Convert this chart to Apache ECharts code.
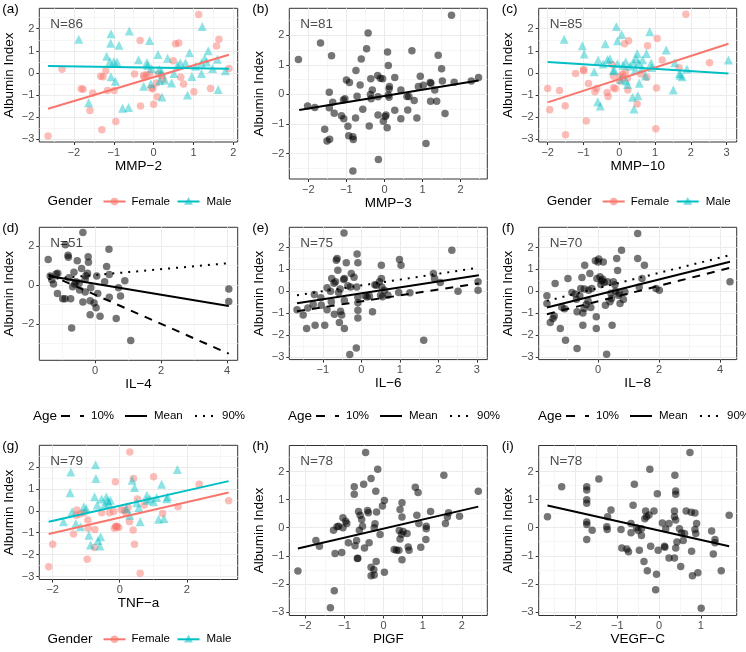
<!DOCTYPE html>
<html>
<head>
<meta charset="utf-8">
<script src="https://cdn.jsdelivr.net/npm/echarts@6.0.0/dist/echarts.min.js"></script>
<style>
html, body { margin: 0; padding: 0; background: #fff; }
#chart { width: 746px; height: 652px; }
</style>
</head>
<body>
<div id="chart"></div>
<script>
// ---- data ----
const panelTags = ['(a)', '(b)', '(c)', '(d)', '(e)', '(f)', '(g)', '(h)', '(i)'];
const xNames = ['MMP-2', 'MMP-3', 'MMP-10', 'IL-4', 'IL-6', 'IL-8', 'TNF-a', 'PlGF', 'VEGF-C'];
const sampleN = [86, 81, 85, 51, 75, 70, 79, 78, 78];
const ageLevels = ['10%', 'Mean', '90%'];
const genders = ['Female', 'Male'];

const xTicks = [
  [-2, -1, 0, 1, 2], [-2, -1, 0, 1, 2], [-2, -1, 0, 1, 2, 3],
  [0, 2, 4], [-1, 0, 1, 2, 3], [0, 2, 4],
  [-2, 0, 2], [-2, -1, 0, 1, 2], [-2, -1, 0, 1]
];
const yTicks = [
  [-3, -2, -1, 0, 1, 2], [-2, -1, 0, 1, 2], [-3, -2, -1, 0, 1, 2],
  [-2, 0, 2], [-3, -2, -1, 0, 1, 2], [-3, -2, -1, 0, 1, 2],
  [-3, -2, -1, 0, 1, 2], [-3, -2, -1, 0, 1, 2], [-3, -2, -1, 0, 1, 2]
];

const mmp2Female = [[-2.65,-2.85],[-2.3,0.17],[-1.82,-0.72],[-1.77,-0.74],[-1.6,-1.7],[-1.53,-0.91],[-1.33,-0.15],[-1.27,-0.17],[-1.3,-2.57],[-1.2,0.1],[-1.16,-0.8],[-0.99,-0.8],[-0.95,-2.2],[-0.48,-0.05],[-0.34,1.47],[-0.33,-1.5],[-0.25,-0.1],[-0.18,-0.08],[-0.24,-0.2],[-0.1,-0.05],[-0.05,-0.68],[-0.02,-0.72],[0.0,-1.42],[0.07,-0.45],[0.09,-1.08],[0.12,-0.05],[0.23,-0.28],[0.2,-0.12],[0.49,0.55],[0.55,1.32],[0.63,1.36],[0.68,-0.2],[0.75,-0.5],[1.01,-0.85],[1.13,2.65],[1.43,-0.7],[1.58,1.22],[1.64,1.53],[1.89,0.2]];
const mmp2Male = [[-1.88,1.52],[-1.63,-1.35],[-1.07,1.77],[-1.08,1.34],[-1.18,0.76],[-1.1,0.52],[-1.0,0.52],[-0.92,0.5],[-1.07,-0.17],[-0.96,-0.38],[-0.87,1.25],[-0.78,-1.6],[-0.63,-1.56],[-0.61,1.9],[-0.38,0.6],[-0.17,0.47],[-0.15,0.34],[-0.1,1.47],[-0.25,-0.6],[-0.07,-0.49],[0.11,0.84],[0.14,0.16],[0.21,-1.09],[0.28,-0.32],[0.35,0.67],[0.45,-0.45],[0.51,-0.02],[0.67,0.46],[0.8,0.46],[0.85,-1.0],[0.9,0.91],[0.96,-0.16],[1.2,0.45],[1.22,2.1],[1.2,-0.03],[1.28,0.66],[1.33,0.5],[1.37,1.0],[1.48,0.2],[1.6,0.62],[1.62,-0.75],[1.8,0.1],[0.2,0.05],[0.6,0.35],[-0.05,0.2],[1.05,0.3],[0.15,-0.35]];
const mmp2FitFemale = [[-2.65,-1.62],[1.89,0.82]];
const mmp2FitMale = [[-2.65,0.31],[1.89,0.19]];

const mmp3Points = [[-2.26,1.18],[-2.02,-0.39],[-1.83,-0.44],[-1.68,1.74],[-1.57,-1.18],[-1.51,-1.58],[-1.44,-1.52],[-1.45,0.07],[-1.45,-0.45],[-1.39,1.31],[-1.36,-0.27],[-1.32,-0.64],[-1.13,-0.72],[-1.08,-0.19],[-1.04,-0.15],[-1.07,-0.82],[-1.0,0.49],[-0.96,-1.08],[-0.94,-1.4],[-0.92,0.4],[-0.83,-1.43],[-0.82,-1.53],[-0.83,-2.59],[-0.75,0.81],[-0.76,-0.8],[-0.72,-0.06],[-0.64,0.32],[-0.61,1.2],[-0.57,-0.5],[-0.47,1.54],[-0.43,2.08],[-0.4,-1.07],[-0.37,0.0],[-0.36,0.53],[-0.32,0.15],[-0.35,-0.15],[-0.18,0.64],[-0.17,-0.7],[-0.17,-0.08],[-0.16,-2.2],[-0.11,0.55],[-0.05,0.53],[-0.03,-0.91],[0.02,-0.75],[0.04,-0.7],[0.07,-1.13],[0.08,1.43],[0.1,0.98],[0.12,0.18],[0.12,-0.1],[0.13,0.27],[0.27,0.57],[0.27,-0.54],[0.43,0.15],[0.43,-0.82],[0.61,-0.53],[0.59,-0.07],[0.64,-0.07],[0.72,1.48],[0.78,-0.21],[0.85,-0.8],[0.89,0.27],[0.94,0.61],[1.02,0.31],[1.09,-1.66],[1.2,0.4],[1.21,-0.23],[1.32,0.15],[1.37,-0.23],[1.41,1.32],[1.5,0.87],[1.52,0.45],[1.59,-0.65],[1.76,2.68],[1.83,0.41],[2.28,0.45],[2.47,0.57],[1.22,0.38],[0.1,-0.02]];
const mmp3Fit = [[-2.24,-0.53],[2.47,0.47]];

const mmp10Female = [[-2.0,-0.7],[-1.94,-1.67],[-1.67,-0.79],[-1.51,-1.49],[-1.5,-2.8],[-1.22,-0.03],[-1.0,0.16],[-0.99,0.1],[-0.86,-0.48],[-0.92,-2.17],[-0.68,-0.85],[-0.63,-0.7],[-0.34,-0.89],[-0.31,-1.07],[-0.2,0.37],[-0.16,-0.15],[-0.16,-0.67],[-0.11,-0.71],[0.01,-0.36],[0.03,-0.15],[0.09,-0.06],[0.1,-0.23],[0.15,1.32],[0.17,0.04],[0.24,-0.77],[0.26,1.46],[0.23,-0.24],[0.5,-1.4],[0.6,-0.05],[0.77,-0.2],[0.79,1.23],[1.04,-0.68],[1.06,1.56],[1.02,-2.52],[1.2,0.58],[1.67,0.24],[1.86,2.66],[2.52,0.46]];
const mmp10Male = [[-1.54,1.52],[-1.03,1.23],[-0.98,0.86],[-0.59,0.58],[-0.6,-1.3],[-0.53,-1.5],[-0.39,1.32],[-0.33,0.61],[-0.26,0.64],[-0.17,0.1],[-0.14,0.13],[-0.08,2.1],[-0.05,1.46],[-0.05,0.43],[0.07,1.74],[0.18,0.51],[0.19,-0.36],[0.23,-0.52],[0.37,-1.1],[0.39,0.5],[0.41,-1.63],[0.47,0.64],[0.5,0.88],[0.54,0.46],[0.52,-1.03],[0.56,-0.47],[0.64,0.22],[0.73,-0.14],[0.76,0.88],[0.85,1.86],[0.89,0.45],[0.91,0.25],[1.31,1.04],[1.51,-0.77],[1.55,0.46],[1.68,-0.02],[1.76,-0.17],[1.89,0.18],[3.05,0.58],[0.3,0.3],[0.45,0.15],[-0.45,0.4],[0.05,-0.3],[0.65,0.6],[0.1,0.35],[1.7,-0.1],[-0.7,0.05]];
const mmp10FitFemale = [[-2.0,-1.33],[3.05,1.32]];
const mmp10FitMale = [[-2.0,0.49],[3.05,-0.02]];

const il4Points = [[-1.42,1.31],[-1.36,0.46],[-1.31,0.27],[-1.26,0.05],[-1.18,0.56],[-1.13,0.61],[-1.14,-0.44],[-0.98,-0.71],[-0.91,-0.71],[-0.9,2.06],[-0.82,1.53],[-0.81,1.43],[-0.79,0.37],[-0.74,-0.7],[-0.71,-2.21],[-0.68,-0.09],[-0.64,0.66],[-0.58,0.17],[-0.54,1.24],[-0.48,0.1],[-0.41,0.85],[-0.37,2.69],[-0.37,-0.87],[-0.28,0.48],[-0.23,0.6],[-0.21,1.45],[-0.2,1.17],[-0.15,-0.8],[-0.13,-0.14],[-0.15,-1.53],[-0.03,-0.92],[0.03,-1.16],[0.05,0.46],[0.08,-0.44],[0.15,-1.6],[0.29,0.17],[0.35,0.95],[0.42,1.84],[0.43,0.54],[0.43,-0.63],[0.64,-1.72],[0.71,-0.14],[0.77,-0.56],[0.9,0.22],[1.08,-2.84],[4.05,-0.2],[4.05,-0.85],[-0.3,-0.36],[-0.47,-0.26],[-0.62,0.05],[-0.3,0.3]];
const il4Fit10 = [[-1.41,0.55],[4.05,-3.52]];
const il4FitMean = [[-1.41,0.46],[4.05,-1.07]];
const il4Fit90 = [[-1.41,0.3],[4.05,1.12]];

const il6Points = [[-1.67,-0.84],[-1.51,-1.09],[-1.42,-1.7],[-1.39,-0.76],[-1.25,-0.61],[-1.22,-0.15],[-1.2,-1.55],[-1.04,-0.64],[-0.95,-1.55],[-0.89,-0.85],[-0.89,0.16],[-0.78,-0.48],[-0.77,0.58],[-0.71,0.37],[-0.7,-1.05],[-0.67,0.43],[-0.65,1.42],[-0.63,1.5],[-0.61,0.96],[-0.59,-0.06],[-0.57,-1.43],[-0.54,-0.91],[-0.51,-1.09],[-0.46,0.54],[-0.44,0.58],[-0.44,-0.42],[-0.44,-1.7],[-0.45,2.67],[-0.39,1.3],[-0.3,-2.89],[-0.26,0.81],[-0.28,0.2],[-0.19,0.64],[-0.13,-2.59],[-0.11,1.7],[-0.09,1.3],[-0.12,0.2],[-0.09,-0.26],[-0.09,-0.53],[-0.09,-0.87],[-0.09,-1.22],[0.29,-0.94],[0.15,-0.26],[0.21,-0.23],[0.39,0.28],[0.47,0.43],[0.5,-0.18],[0.52,1.19],[0.52,0.58],[0.53,0.2],[0.6,0.05],[0.69,-0.18],[0.97,-0.06],[0.99,1.45],[1.03,1.19],[1.26,-0.07],[1.62,-2.24],[1.87,0.81],[1.9,0.58],[2.05,0.4],[2.35,1.88],[2.51,0.0],[3.03,0.43],[3.03,0.05],[-0.35,0.25],[0.1,-0.2],[0.35,0.3],[-0.55,0.1],[-1.05,-0.3],[-0.8,0.0],[0.55,-0.25]];
const il6Fit10 = [[-1.67,-0.91],[3.05,0.36]];
const il6FitMean = [[-1.67,-0.55],[3.05,0.73]];
const il6Fit90 = [[-1.67,-0.18],[3.05,1.08]];

const il8Points = [[-1.68,-0.21],[-1.68,-0.56],[-1.57,-1.43],[-1.48,-1.25],[-1.44,-1.13],[-1.41,0.35],[-1.24,-1.7],[-1.19,-0.73],[-1.07,-2.24],[-0.99,0.58],[-0.86,-0.06],[-0.75,-0.12],[-0.71,-0.36],[-0.69,-0.94],[-0.69,-2.62],[-0.57,0.13],[-0.53,0.63],[-0.5,-0.99],[-0.5,-1.55],[-0.46,-0.79],[-0.44,1.19],[-0.39,-0.61],[-0.33,-0.45],[-0.31,0.05],[-0.27,0.81],[-0.24,-0.74],[-0.09,1.39],[-0.06,-1.17],[-0.06,-1.7],[-0.04,0.58],[0.0,1.34],[0.02,1.48],[0.06,0.66],[0.09,0.31],[0.11,0.48],[0.17,1.34],[0.24,-0.64],[0.28,-2.88],[0.31,0.43],[0.39,-0.48],[0.42,-0.09],[0.44,-0.33],[0.46,-1.55],[0.5,0.43],[0.57,0.0],[0.61,1.5],[0.64,0.95],[0.66,-0.18],[0.72,-0.56],[0.77,1.88],[0.83,-0.38],[0.88,-0.03],[1.3,2.64],[1.3,1.5],[1.35,0.2],[1.44,0.58],[1.52,1.19],[1.9,0.13],[2.01,0.05],[4.33,0.43],[-0.21,0.13],[0.15,0.55],[-0.45,0.1],[0.55,0.3],[-1.1,-0.8],[0.2,0.4],[-0.6,-0.2],[0.7,-0.1]];
const il8Fit10 = [[-1.68,-1.05],[4.33,1.07]];
const il8FitMean = [[-1.68,-0.74],[4.33,1.35]];
const il8Fit90 = [[-1.68,-0.44],[4.33,1.65]];

const tnfFemale = [[-2.12,-2.55],[-2.0,-1.52],[-1.38,-1.06],[-1.28,0.03],[-1.19,-0.15],[-1.07,-0.09],[-0.95,-0.42],[-0.94,-0.8],[-0.97,-2.21],[-0.74,-0.85],[-0.75,-1.67],[-0.54,-0.09],[-0.3,-0.09],[-0.16,-0.8],[-0.13,1.32],[-0.1,-0.7],[-0.08,-0.73],[-0.03,-0.76],[-0.18,-0.03],[0.14,0.0],[0.2,-0.12],[0.25,0.15],[0.29,-0.5],[0.3,2.68],[0.4,-0.88],[0.41,1.47],[0.44,-1.52],[0.53,0.53],[0.61,-2.85],[0.73,0.26],[1.01,1.55],[1.28,-0.12],[1.74,0.18],[2.37,1.21],[3.25,0.45],[-0.12,-0.72],[0.05,0.05],[-1.3,-0.2]];
const tnfMale = [[-1.68,-0.5],[-1.48,0.82],[-1.46,1.77],[-1.42,-0.05],[-1.31,-0.58],[-1.17,-0.73],[-1.07,0.18],[-0.92,-1.11],[-0.87,-1.56],[-0.75,0.64],[-0.72,2.1],[-0.71,1.47],[-0.67,0.26],[-0.65,-1.36],[-0.59,-1.6],[-0.57,-1.18],[-0.54,0.53],[-0.4,0.64],[-0.36,0.45],[-0.33,0.36],[-0.28,0.48],[0.37,1.39],[0.44,1.06],[0.51,0.36],[0.57,0.15],[0.61,-0.5],[0.81,0.71],[0.81,0.48],[1.01,0.41],[1.16,-0.39],[1.25,1.21],[1.32,-0.35],[1.4,0.55],[1.43,0.64],[1.72,1.88],[0.3,-0.2],[-0.45,0.3],[0.9,0.55],[1.1,0.6],[-1.0,0.1],[0.2,0.1]];
const tnfFitFemale = [[-2.12,-1.06],[3.25,0.83]];
const tnfFitMale = [[-2.12,-0.5],[3.25,1.35]];

const plgfPoints = [[-2.19,-1.54],[-1.73,-0.46],[-1.64,-0.66],[-1.28,-0.09],[-1.24,-0.92],[-1.26,-2.24],[-1.36,-2.85],[-1.19,0.03],[-1.04,0.35],[-1.04,0.0],[-1.07,-0.88],[-0.97,0.23],[-0.94,0.15],[-0.9,-0.54],[-0.75,1.46],[-0.75,1.19],[-0.73,-0.64],[-0.69,-0.46],[-0.66,-1.09],[-0.64,0.58],[-0.62,-0.09],[-0.6,0.44],[-0.56,0.29],[-0.54,0.05],[-0.51,1.55],[-0.49,-0.72],[-0.46,2.68],[-0.41,0.61],[-0.39,0.53],[-0.37,-0.54],[-0.32,1.75],[-0.32,-1.41],[-0.32,-1.71],[-0.25,-1.5],[-0.24,-1.68],[-0.22,0.14],[-0.2,1.3],[-0.18,0.56],[-0.19,-1.2],[-0.15,2.08],[-0.09,-0.24],[-0.03,0.77],[0.02,0.97],[0.02,-1.59],[0.27,-0.78],[0.33,-0.8],[0.39,-0.8],[0.42,0.65],[0.42,-0.4],[0.46,-0.23],[0.47,0.89],[0.47,0.38],[0.47,-1.14],[0.5,-0.14],[0.6,-0.21],[0.63,-0.69],[0.65,-0.8],[0.81,1.44],[0.85,0.44],[0.88,1.25],[0.9,0.15],[0.95,-0.7],[1.09,0.05],[1.09,-0.04],[1.08,-0.42],[1.2,0.58],[1.54,1.87],[1.58,0.15],[1.63,0.38],[1.66,0.53],[1.94,0.41],[2.42,1.3],[-0.67,-1.1],[-0.24,0.0],[0.4,-0.1],[-1.15,0.05]];
const plgfFit = [[-2.19,-0.74],[2.42,0.75]];

const vegfcPoints = [[-2.67,0.39],[-2.33,1.46],[-1.73,1.46],[-1.73,1.34],[-1.73,0.99],[-1.73,0.87],[-1.73,0.2],[-1.73,0.11],[-1.73,-0.42],[-1.6,-0.09],[-1.44,1.73],[-1.25,0.03],[-1.23,0.39],[-1.24,-0.06],[-1.15,0.63],[-0.91,-0.06],[-0.89,-0.72],[-0.77,-0.76],[-0.73,-0.86],[-0.67,0.15],[-0.67,-0.18],[-0.62,0.8],[-0.59,1.55],[-0.54,0.0],[-0.47,-0.8],[-0.42,-0.04],[-0.42,-0.28],[-0.36,-1.2],[-0.34,0.32],[-0.32,0.59],[-0.3,0.39],[-0.28,-1.53],[-0.24,0.45],[-0.22,2.08],[-0.2,-0.66],[-0.12,0.59],[-0.06,-1.66],[-0.08,-2.21],[-0.04,1.21],[-0.02,-0.8],[0.08,0.17],[0.13,-0.66],[0.14,-0.7],[0.16,-0.05],[0.24,0.15],[0.24,-1.08],[0.37,0.59],[0.37,0.39],[0.37,-1.08],[0.38,1.87],[0.4,1.31],[0.4,1.19],[0.4,0.27],[0.4,-0.72],[0.43,-0.51],[0.49,-0.04],[0.52,-1.38],[0.54,-0.19],[0.58,-0.46],[0.61,-0.21],[0.65,0.59],[0.74,2.68],[0.77,0.55],[0.78,-0.84],[0.8,-1.71],[0.86,0.52],[0.86,-0.06],[0.88,-0.21],[0.9,0.15],[0.93,-1.6],[1.01,-2.87],[1.26,-0.12],[1.3,-0.94],[1.34,-0.54],[1.34,-0.42],[1.49,-1.53],[1.68,0.44],[-0.5,-0.1]];
const vegfcFit = [[-2.67,0.79],[1.68,-0.66]];

// ---- layout / styling ----
const FONT = '"Liberation Sans", Arial, Helvetica, sans-serif';
const FEMALE = '#F8766D', MALE = '#00BFC4';
const FEMALE_PT = 'rgba(248,118,109,0.6)', MALE_PT = 'rgba(0,191,196,0.55)', DARK_PT = 'rgba(0,0,0,0.68)';
const DASHED = [8, 7], DOTTED = [2, 6];

const layout = [
  {left: 39.3, top: 8.3, width: 198.4, height: 133.7, xMin: -2.87, xMax: 2.11, yMin: -3.125, yMax: 2.925},
  {left: 289.3, top: 8.3, width: 198, height: 170.7, xMin: -2.5, xMax: 2.7, yMin: -2.8625, yMax: 2.9125},
  {left: 538.7, top: 8.3, width: 198, height: 133.7, xMin: -2.25, xMax: 3.28, yMin: -3.125, yMax: 2.925},
  {left: 39.3, top: 227.3, width: 198.4, height: 133, xMin: -1.69, xMax: 4.32, yMin: -3.86, yMax: 2.96},
  {left: 289.3, top: 227.3, width: 198, height: 132.3, xMin: -1.87, xMax: 3.27, yMin: -3.125, yMax: 2.925},
  {left: 538.7, top: 227.3, width: 198, height: 132.3, xMin: -1.95, xMax: 4.55, yMin: -3.125, yMax: 2.925},
  {left: 39.3, top: 445.3, width: 198.4, height: 134.2, xMin: -2.4, xMax: 3.52, yMin: -3.13, yMax: 2.98},
  {left: 289.3, top: 445.5, width: 198, height: 170, xMin: -2.41, xMax: 2.65, yMin: -3.125, yMax: 2.925},
  {left: 538.7, top: 445.5, width: 198, height: 170, xMin: -2.88, xMax: 1.86, yMin: -3.125, yMax: 2.925}
];

// what goes in each panel
const panels = [
  {kind: 'gender', female: mmp2Female, male: mmp2Male, fitF: mmp2FitFemale, fitM: mmp2FitMale, legend: [138.5, 201.5]},
  {kind: 'plain', points: mmp3Points, fit: mmp3Fit},
  {kind: 'gender', female: mmp10Female, male: mmp10Male, fitF: mmp10FitFemale, fitM: mmp10FitMale, legend: [637.7, 201.5]},
  {kind: 'age', points: il4Points, fits: [il4Fit10, il4FitMean, il4Fit90], legend: [133, 416]},
  {kind: 'age', points: il6Points, fits: [il6Fit10, il6FitMean, il6Fit90], legend: [388, 416]},
  {kind: 'age', points: il8Points, fits: [il8Fit10, il8FitMean, il8Fit90], legend: [638, 416]},
  {kind: 'gender', female: tnfFemale, male: tnfMale, fitF: tnfFitFemale, fitM: tnfFitMale, legend: [138.5, 639.3]},
  {kind: 'plain', points: plgfPoints, fit: plgfFit},
  {kind: 'plain', points: vegfcPoints, fit: vegfcFit}
];

const minus = s => String(s).replace(/-/g, '\u2212');

function minorValues(ticks, min, max) {
  const step = ticks[1] - ticks[0];
  const out = [];
  for (let v = ticks[0] - step / 2; v <= max; v += step) {
    if (v > min && v < max) out.push(v);
  }
  return out;
}

const grids = [], xAxes = [], yAxes = [], series = [], graphics = [];

panels.forEach((p, i) => {
  const L = layout[i];
  grids.push({
    left: L.left, top: L.top, width: L.width, height: L.height,
    show: true, borderColor: '#333', borderWidth: 1, backgroundColor: 'transparent',
    containLabel: false, outerBoundsMode: 'none'
  });
  const axisCommon = {
    gridIndex: i, type: 'value', nameLocation: 'middle', nameMoveOverlap: false,
    nameTextStyle: {fontSize: 13.5, color: '#000', fontFamily: FONT},
    axisLine: {show: false, onZero: false},
    splitLine: {show: false}
  };
  xAxes.push(Object.assign({}, axisCommon, {
    position: 'bottom',
    min: L.xMin, max: L.xMax, name: minus(xNames[i]), nameGap: 17,
    axisTick: {show: true, length: 3, lineStyle: {color: '#333'}, customValues: xTicks[i]},
    axisLabel: {customValues: xTicks[i], fontSize: 11, color: '#4d4d4d', margin: 5, fontFamily: FONT, formatter: minus}
  }));
  yAxes.push(Object.assign({}, axisCommon, {
    position: 'left',
    min: L.yMin, max: L.yMax, name: 'Albumin Index', nameGap: 23,
    axisTick: {show: true, length: 3, lineStyle: {color: '#333'}, customValues: yTicks[i]},
    axisLabel: {customValues: yTicks[i], fontSize: 11, color: '#4d4d4d', margin: 5, fontFamily: FONT, formatter: minus}
  }));

  // panel grid lines (major + minor), drawn through the axes' scales
  const major = {color: '#ebebeb', width: 1, type: 'solid'};
  const minor = {color: '#f4f4f4', width: 0.8, type: 'solid'};
  const gl = [];
  minorValues(xTicks[i], L.xMin, L.xMax).forEach(v => gl.push({xAxis: v, lineStyle: minor}));
  minorValues(yTicks[i], L.yMin, L.yMax).forEach(v => gl.push({yAxis: v, lineStyle: minor}));
  xTicks[i].forEach(v => gl.push({xAxis: v, lineStyle: major}));
  yTicks[i].forEach(v => gl.push({yAxis: v, lineStyle: major}));
  series.push({
    type: 'line', xAxisIndex: i, yAxisIndex: i, data: [], silent: true, z: 0,
    markLine: {silent: true, z: 0, symbol: ['none', 'none'], label: {show: false}, emphasis: {disabled: true}, data: gl}
  });

  const lineSeries = (data, color, type) => ({
    type: 'line', xAxisIndex: i, yAxisIndex: i, data: data, symbol: 'none', showSymbol: false,
    silent: true, z: 4, lineStyle: {color: color, width: 2, type: type || 'solid'}
  });
  const pointSeries = (data, color, symbol, size) => ({
    type: 'scatter', xAxisIndex: i, yAxisIndex: i, data: data, symbol: symbol, symbolSize: size,
    silent: true, z: 3, itemStyle: {color: color}
  });

  if (p.kind === 'gender') {
    series.push(pointSeries(p.female, FEMALE_PT, 'circle', 7.5));
    series.push(pointSeries(p.male, MALE_PT, 'triangle', 9));
    series.push(lineSeries(p.fitF, FEMALE));
    series.push(lineSeries(p.fitM, MALE));
  } else if (p.kind === 'age') {
    series.push(pointSeries(p.points, DARK_PT, 'circle', 7.5));
    series.push(lineSeries(p.fits[0], '#000', DASHED));
    series.push(lineSeries(p.fits[1], '#000'));
    series.push(lineSeries(p.fits[2], '#000', DOTTED));
  } else {
    series.push(pointSeries(p.points, DARK_PT, 'circle', 7.5));
    series.push(lineSeries(p.fit, '#000'));
  }

  // tag and sample size
  graphics.push({type: 'text', z: 10, style: {text: panelTags[i], x: L.left - 37, y: L.top + 0.5,
    fill: '#000', fontSize: 13.5, fontFamily: FONT, verticalAlign: 'middle'}});
  graphics.push({type: 'text', z: 1, style: {text: 'N=' + sampleN[i], x: L.left + 11, y: L.top + 16,
    fill: '#4d4d4d', fontSize: 13.5, fontFamily: FONT, verticalAlign: 'middle'}});

  // legends
  if (p.legend) {
    const [cx, cy] = p.legend;
    const txt = (s, x, size) => ({type: 'text', style: {text: s, x: x, y: cy, fill: '#000',
      fontSize: size, fontFamily: FONT, verticalAlign: 'middle'}});
    const seg = (x1, x2, dash, color) => ({type: 'line', shape: {x1: x1, y1: cy, x2: x2, y2: cy},
      style: {stroke: color || '#000', lineWidth: 2, lineDash: dash || null}});
    if (p.kind === 'gender') {
      graphics.push(txt('Gender', cx - 91, 13.5));
      graphics.push(seg(cx - 35, cx - 13, null, FEMALE));
      graphics.push({type: 'circle', shape: {cx: cx - 24, cy: cy, r: 3.8}, style: {fill: FEMALE_PT}});
      graphics.push(txt(genders[0], cx - 7, 11.5));
      graphics.push(seg(cx + 39, cx + 61, null, MALE));
      graphics.push({type: 'polygon', shape: {points: [[cx + 50, cy - 4.5], [cx + 54.5, cy + 3.3], [cx + 45.5, cy + 3.3]]},
        style: {fill: MALE_PT}});
      graphics.push(txt(genders[1], cx + 68, 11.5));
    } else {
      graphics.push(txt('Age', cx - 100, 13.5));
      graphics.push(seg(cx - 72, cx - 49, [9, 10]));
      graphics.push(txt(ageLevels[0], cx - 42, 11.5));
      graphics.push(seg(cx - 8, cx + 14));
      graphics.push(txt(ageLevels[1], cx + 21, 11.5));
      graphics.push(seg(cx + 62, cx + 84, DOTTED));
      graphics.push(txt(ageLevels[2], cx + 89, 11.5));
    }
  }
});

const chart = echarts.init(document.getElementById('chart'), null, {renderer: 'canvas'});
chart.setOption({
  animation: false,
  backgroundColor: '#fff',
  textStyle: {fontFamily: FONT},
  grid: grids,
  xAxis: xAxes,
  yAxis: yAxes,
  series: series,
  graphic: {elements: graphics}
});
</script>
</body>
</html>
